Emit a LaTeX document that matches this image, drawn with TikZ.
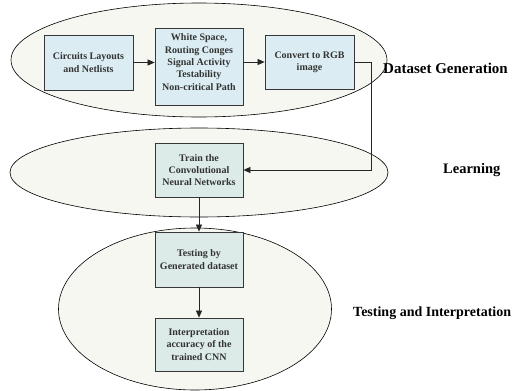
\documentclass[tikz,border=0pt]{standalone}
\usepackage{fontspec}
\setmainfont{Liberation Serif}
\usetikzlibrary{shapes.geometric,arrows.meta}
\definecolor{ellfill}{RGB}{247,247,241}
\definecolor{boxblue}{RGB}{219,237,243}
\definecolor{boxgreen}{RGB}{220,235,232}
\definecolor{edgec}{RGB}{55,55,55}
\begin{document}
\begin{tikzpicture}[x=1pt,y=-1pt,
  phase/.style={ellipse, draw=black, line width=0.6pt, fill=ellfill, inner sep=0pt},
  stepbox/.style={draw=edgec, line width=0.8pt, minimum width=89pt, inner sep=0pt, align=center,
    font=\fontsize{10}{12.3}\selectfont\bfseries, text=black!80},
  boxtext/.style={inner sep=0pt, align=center, font=\fontsize{10}{12.3}\selectfont\bfseries, text=black!80},
  arr/.style={draw=black!85, line width=0.7pt, -{Triangle[length=7pt,width=6pt]}},
  lbl/.style={anchor=west, inner sep=0pt, font=\fontsize{14}{16}\selectfont\bfseries}
]
\useasboundingbox (0,0) rectangle (531,391);

% phases
\node[phase, minimum width=376pt, minimum height=114pt] (e1) at (199,60) {};
\node[phase, minimum width=378pt, minimum height=89pt] (e2) at (199,172.5) {};
\node[phase, minimum width=273pt, minimum height=162pt] (e3) at (195,309) {};

% boxes
\node[stepbox, fill=boxblue, minimum height=55pt] (b1) at (88.5,62.5) {Circuits Layouts\\and Netlists};
\node[stepbox, fill=boxblue, minimum width=88pt, minimum height=77pt] (b2) at (199,66.5) {};
\node[boxtext] (b2t) at (199,62) {White Space,\\Routing Conges\\Signal Activity\\Testability\\Non-critical Path};
\node[stepbox, fill=boxblue, minimum height=54pt] (b3) at (309.5,62) {Convert to RGB\\image};
\node[stepbox, fill=boxgreen, minimum width=88pt, minimum height=54pt] (tr) at (199,170) {Train the\\Convolutional\\Neural Networks};
\node[stepbox, fill=boxgreen, minimum width=88pt, minimum height=55pt] (te) at (199,259.5) {Testing by\\Generated dataset};
\node[stepbox, fill=boxgreen, minimum width=88pt, minimum height=53pt] (ip) at (199,344.5) {Interpretation\\accuracy of the\\trained CNN};

% labels
\node[lbl, font=\fontsize{15}{17}\selectfont\bfseries] (l1) at (383,68) {Dataset Generation};
\node[lbl, font=\fontsize{14.5}{17}\selectfont\bfseries] (l2) at (443,170) {Learning};
\node[lbl] (l3) at (353,313) {Testing and Interpretation};

% connectors
\draw[arr] (b1.east) -- (b1.east -| b2.west);
\draw[arr] (b2.east |- b3.west) -- (b3.west);
\draw[arr] (b3.east) -- ++(17,0) |- (tr.east);
\draw[arr] (tr.south) -- (te.north);
\draw[arr] (te.south) -- (ip.north);
\end{tikzpicture}
\end{document}
